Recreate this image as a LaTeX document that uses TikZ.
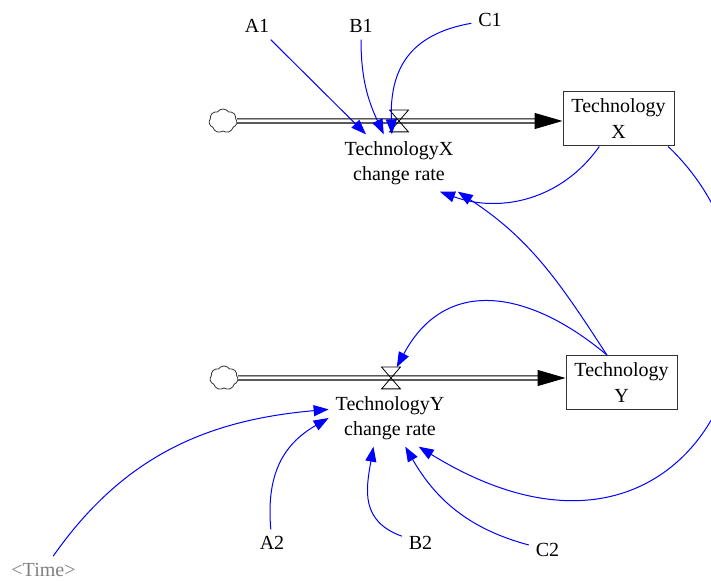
\documentclass[tikz,border=0pt]{standalone}
\usepackage{fontspec}
\setmainfont{Liberation Serif}
\usetikzlibrary{arrows.meta, shapes.symbols}

\begin{document}
\begin{tikzpicture}[x=0.5pt, y=-0.5pt,
stock/.style={rectangle, draw=black!80, line width=0.5pt, minimum width=55.5pt, minimum height=27pt, align=center, font=\fontsize{10}{13}\selectfont},
rate/.style={align=center, font=\fontsize{10}{12.5}\selectfont},
aux/.style={font=\fontsize{10}{12}\selectfont},
shadow/.style={aux, text=black!50},
valve/.style={minimum width=9pt, minimum height=10.5pt, inner sep=0pt},
source/.style={cloud, draw=black!80, line width=0.4pt, cloud puffs=7, cloud puff arc=110, aspect=1.2, minimum width=14pt, minimum height=12pt, inner sep=0pt},
pipe/.style={double, double distance=1.5pt, line width=0.6pt, black},
flowhead/.style={-{Triangle[length=14pt, width=8pt]}, line width=0.5pt, black},
link/.style={-{Triangle[length=7.5pt, width=5.5pt]}, blue, line width=0.5pt}
]
\useasboundingbox (0,0) rectangle (711,581);
%Nodes
\node[source]  (cloudX)  at (223,121)   {};
\node[valve]   (valveX)  at (399,121)   {};
\node[stock]   (boxX)    at (618.5,119) {Technology\\X};
\node[rate]    (rateX)   at (399,163)   {TechnologyX\\change rate};
\node[aux]     (A1)      at (257,26)    {A1};
\node[aux]     (B1)      at (361,26)    {B1};
\node[aux]     (C1)      at (490,20)    {C1};

\node[source]  (cloudY)  at (224,378)   {};
\node[valve]   (valveY)  at (391,378)   {};
\node[stock]   (boxY)    at (621.5,382.5) {Technology\\Y};
\node[rate]    (rateY)   at (390,418)   {TechnologyY\\change rate};
\node[aux]     (A2)      at (272,543)   {A2};
\node[aux]     (B2)      at (420.5,543) {B2};
\node[aux]     (C2)      at (547.5,550) {C2};
\node[shadow]  (Time)    at (43.5,570)  {<Time>};
%Flows
\draw[pipe] (cloudX) -- ([xshift=-13pt]valveX -| boxX.west);
\draw[flowhead] ([xshift=-14pt]valveX -| boxX.west) -- (valveX -| boxX.west);
\draw (valveX.north west) -- (valveX.north east) -- (valveX.south west) -- (valveX.south east) -- cycle;
\draw[pipe] (cloudY) -- ([xshift=-13pt]valveY -| boxY.west);
\draw[flowhead] ([xshift=-14pt]valveY -| boxY.west) -- (valveY -| boxY.west);
\draw (valveY.north west) -- (valveY.north east) -- (valveY.south west) -- (valveY.south east) -- cycle;
%Lines
\draw[link] (A1) -- (rateX.139);
\draw[link] (B1) to[out=-90, in=115] (rateX.118);
\draw[link] (C1) to[out=190, in=92, looseness=1.2] (rateX.104);
\draw[link] (boxX) to[out=-125, in=-20] (rateX.-35);
\draw[link] (boxY.118) to[out=123, in=-33] (rateX.-26);
\draw[link] (boxY.118) to[out=140, in=62, looseness=1.25] (valveY);
\draw[link] (boxX.-29) .. controls (830,300) and (700,620) .. (rateY.-45);
\draw[link] (Time) to[out=55, in=185] (rateY.172);
\draw[link] (A2) to[out=95, in=-150, looseness=1.1] (rateY.180);
\draw[link] (B2) to[out=160, in=-100, looseness=1.2] (rateY.-120);
\draw[link] (C2) to[out=165, in=-60] (rateY.-62);
\end{tikzpicture}
\end{document}
